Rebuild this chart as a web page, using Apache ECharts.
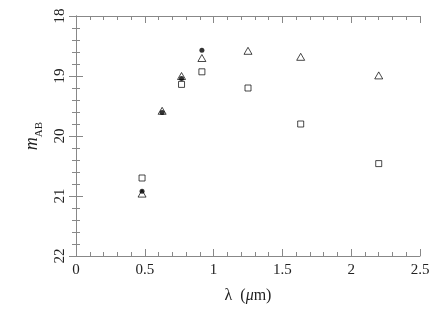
<!DOCTYPE html>
<html>
<head>
<meta charset="utf-8">
<script src="https://cdn.jsdelivr.net/npm/echarts@6/dist/echarts.min.js"></script>
<style>html,body{margin:0;padding:0;background:#fff}#c{width:436px;height:332px}</style>
</head>
<body>
<div id="c"></div>
<script>
// Data
var circleX = [0.48, 0.626, 0.767, 0.915];
var circleY = [20.92, 19.61, 19.04, 18.57];
var triX = [0.48, 0.626, 0.767, 0.915, 1.25, 1.633, 2.2];
var triY = [20.96, 19.58, 19.0, 18.70, 18.58, 18.68, 18.99];
var sqX = [0.48, 0.767, 0.915, 1.25, 1.633, 2.2];
var sqY = [20.70, 19.14, 18.93, 19.20, 19.80, 20.46];
var xTicks = [0, 0.5, 1, 1.5, 2, 2.5];
var yTicks = [18, 19, 20, 21, 22];

function pairs(xs, ys){ return xs.map(function(x,i){ return [x, ys[i]]; }); }

var chart = echarts.init(document.getElementById('c'), null, {renderer:'canvas'});
var axisCol = '#888';
var txtCol = '#222';
var font = 'Liberation Serif';
function xAxisCfg(pos, show){
  return {
    type:'value', position:pos, min:xTicks[0], max:xTicks[xTicks.length-1], interval:0.5,
    axisLine:{show:true, lineStyle:{color:axisCol, width:1}},
    axisTick:{show:true, inside:true, length:7, lineStyle:{color:axisCol}},
    minorTick:{show:true, splitNumber:5, length:4, lineStyle:{color:axisCol}},
    splitLine:{show:false},
    axisLabel:{show:show, margin:7, color:txtCol, fontFamily:font, fontSize:15,
      formatter:function(v){ return String(v); }},
    name: show ? 'λ  ({i|μ}m)' : '',
    nameLocation:'middle', nameGap:32,
    nameTextStyle:{color:txtCol, fontFamily:font, fontSize:16,
      rich:{i:{fontStyle:'italic', fontFamily:font, fontSize:16, color:txtCol}}}
  };
}
function yAxisCfg(pos, show){
  return {
    type:'value', position:pos, inverse:true, min:yTicks[0], max:yTicks[yTicks.length-1], interval:1,
    axisLine:{show:true, lineStyle:{color:axisCol, width:1}},
    axisTick:{show:true, inside:true, length:7, lineStyle:{color:axisCol}},
    minorTick:{show:true, splitNumber:5, length:4, lineStyle:{color:axisCol}},
    splitLine:{show:false},
    axisLabel:{show:show, rotate:90, margin:8, color:txtCol, fontFamily:font, fontSize:15},
    name: show ? '{m|m}{s|AB}' : '',
    nameLocation:'middle', nameGap:34, nameRotate:90,
    nameTextStyle:{rich:{
      m:{fontStyle:'italic', fontFamily:font, fontSize:18, color:txtCol, verticalAlign:'bottom', lineHeight:18},
      s:{fontFamily:font, fontSize:11, color:txtCol, verticalAlign:'bottom', lineHeight:11, padding:[0,0,-4,0]}
    }}
  };
}
chart.setOption({
  animation:false,
  backgroundColor:'#fff',
  grid:{left:76, right:16, top:16, bottom:76},
  xAxis:[xAxisCfg('bottom', true), xAxisCfg('top', false)],
  yAxis:[yAxisCfg('left', true), yAxisCfg('right', false)],
  series:[
    {type:'scatter', symbol:'rect', symbolSize:6, data:pairs(sqX, sqY),
     itemStyle:{color:'rgba(0,0,0,0)', borderColor:'#000', borderWidth:0.9}},
    {type:'scatter', symbol:'triangle', symbolSize:[8,7], data:pairs(triX, triY),
     itemStyle:{color:'rgba(0,0,0,0)', borderColor:'#000', borderWidth:0.9}},
    {type:'scatter', symbol:'circle', symbolSize:5, data:pairs(circleX, circleY),
     itemStyle:{color:'#000'}}
  ]
});
</script>
</body>
</html>
